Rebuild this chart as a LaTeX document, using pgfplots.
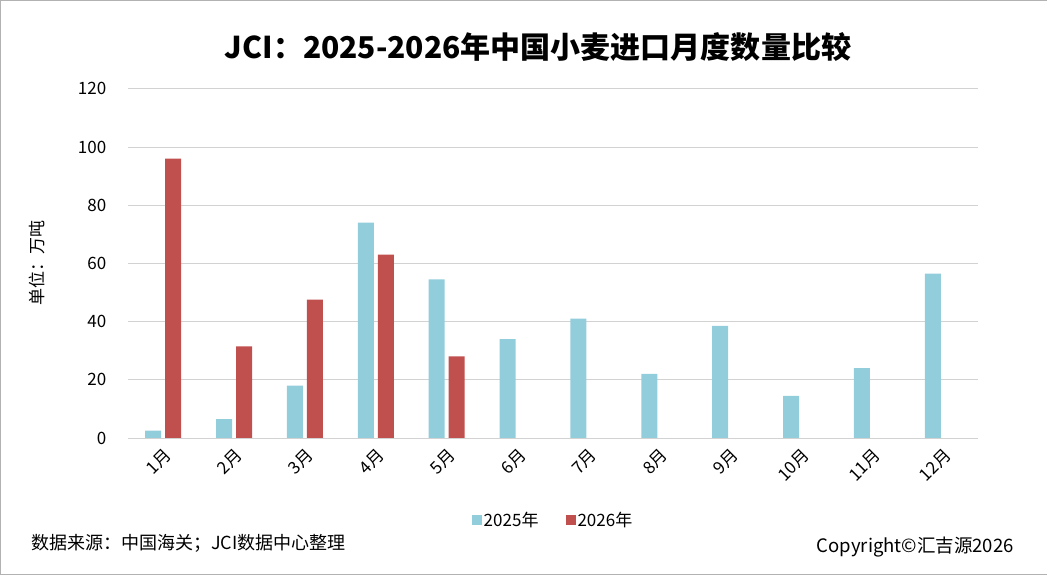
\documentclass[border=0pt]{standalone}
\usepackage{pgfplots}
\pgfplotsset{compat=1.18}
\usepackage{fontspec}
\setmainfont{Noto Sans CJK SC}
\definecolor{b1}{HTML}{92CDDC}
\definecolor{r1}{HTML}{C0504D}
\begin{document}
\begin{tikzpicture}[x=1pt,y=1pt]
\draw[gray!60,use as bounding box] (0.5,0.5) rectangle (1046.5,574.5);
\node[font=\bfseries\fontsize{30}{32}\selectfont] at (538,528) {JCI：2025-2026年中国小麦进口月度数量比较};
\begin{axis}[at={(128pt,137pt)},anchor=south west,scale only axis,width=850pt,height=349pt,
 xmin=0.5,xmax=12.5,ymin=0,ymax=120,ytick={0,20,...,120},
 axis line style={draw=none}, ymajorgrids, grid style={gray!35,line width=0.8pt},
 xtick={1,...,12},xticklabels={1月,2月,3月,4月,5月,6月,7月,8月,9月,10月,11月,12月},
 xticklabel style={rotate=45,anchor=north east,font=\fontsize{17}{18}\selectfont},
 yticklabel style={font=\fontsize{17}{18}\selectfont,xshift=-18pt},
 /pgf/number format/assume math mode=true,
 tick style={draw=none},
 ybar=4pt, bar width=16pt,
 ylabel={单位：万吨}, ylabel style={font=\fontsize{17}{18}\selectfont,yshift=26pt},
 legend style={at={(0.5,-0.2)},anchor=north,draw=none,legend columns=2,font=\fontsize{17}{18}\selectfont,/tikz/every even column/.append style={column sep=25pt}},
 legend image code/.code={\fill[#1] (0,-5pt) rectangle (10pt,5pt);},
]
\draw[gray!50,line width=0.8pt] (axis cs:0.5,0) -- (axis cs:12.5,0);
\addplot[fill=b1,draw=none] coordinates {(1,2.5)(2,6.5)(3,18)(4,74)(5,54.5)(6,34)(7,41)(8,22)(9,38.5)(10,14.5)(11,24)(12,56.5)};
\addplot[fill=r1,draw=none] coordinates {(1,96)(2,31.5)(3,47.5)(4,63)(5,28)};
\legend{2025年,2026年}
\end{axis}
\node[anchor=west,font=\fontsize{18}{19}\selectfont] at (28,32) {数据来源：中国海关；JCI数据中心整理};
\node[anchor=east,font=\fontsize{18.5}{19}\selectfont] at (1017,28) {Copyright©汇吉源2026};
\end{tikzpicture}
\end{document}
